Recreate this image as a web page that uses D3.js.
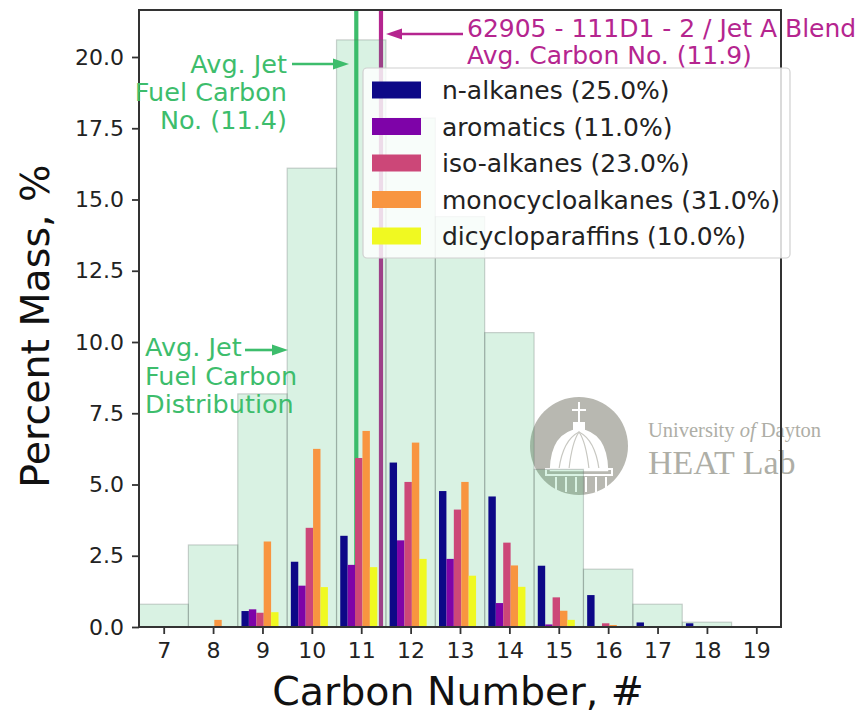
<!DOCTYPE html>
<html>
<head>
<meta charset="utf-8">
<script src="https://cdn.jsdelivr.net/npm/d3@7/dist/d3.min.js"></script>
<style>
  html, body { margin: 0; padding: 0; background: #fff; }
  svg text { font-family: "DejaVu Sans", sans-serif; }
</style>
</head>
<body>
<svg id="chart" width="856" height="714"></svg>
<script>
// ---------- DATA ----------
const carbons = [7, 8, 9, 10, 11, 12, 13, 14, 15, 16, 17, 18, 19];
const jetFuelDist = [0.8, 2.88, 8.18, 16.1, 20.6, 17.86, 14.4, 10.33, 5.53, 2.03, 0.8, 0.17, 0];
const nAlkanes   = [0, 0.03, 0.56, 2.29, 3.2, 5.77, 4.77, 4.58, 2.15, 1.12, 0.16, 0.13, 0];
const aromatics  = [0, 0.02, 0.62, 1.45, 2.18, 3.04, 2.39, 0.84, 0.09, 0, 0, 0, 0];
const isoAlkanes = [0, 0, 0.5, 3.48, 5.93, 5.09, 4.12, 2.96, 1.04, 0.13, 0, 0, 0];
const monocyclo  = [0, 0.25, 3.0, 6.25, 6.88, 6.47, 5.09, 2.16, 0.57, 0.07, 0, 0, 0];
const dicyclo    = [0, 0, 0.52, 1.4, 2.1, 2.39, 1.8, 1.41, 0.25, 0, 0, 0, 0];
const seriesNames = ["n-alkanes (25.0%)", "aromatics (11.0%)", "iso-alkanes (23.0%)",
                     "monocycloalkanes (31.0%)", "dicycloparaffins (10.0%)"];
const seriesValues = [nAlkanes, aromatics, isoAlkanes, monocyclo, dicyclo];
const seriesColors = ["#0d0887", "#7e03a8", "#cc4778", "#f89540", "#f0f921"];
const yTicks = [0, 2.5, 5, 7.5, 10, 12.5, 15, 17.5, 20];
const avgJetCarbon = 11.4;
const sampleAvgCarbon = 11.9;
const jetLabel = ["Avg. Jet", "Fuel Carbon", "No. (11.4)"];
const sampleLabel = ["62905 - 111D1 - 2 / Jet A Blend", "Avg. Carbon No. (11.9)"];
const distLabel = ["Avg. Jet", "Fuel Carbon", "Distribution"];

// ---------- LAYOUT ----------
const svg = d3.select("#chart");
const L = 139, R = 781, T = 10, B = 627;
const x = d3.scaleLinear().domain([6.5, 19.5]).range([L, R]);
const y = d3.scaleLinear().domain([0, 617 / 28.5]).range([B, T]);
const green = "#3dbd6c", magenta = "#b5258f";

// ---------- WATERMARK ----------
const wm = svg.append("g");
wm.append("circle").attr("cx", 579).attr("cy", 446).attr("r", 49).attr("fill", "#b8b8b1");
const dome = wm.append("g").attr("stroke", "#fff").attr("fill", "none").attr("stroke-width", 2);
dome.append("line").attr("x1", 579).attr("x2", 579).attr("y1", 402).attr("y2", 424);
dome.append("line").attr("x1", 572).attr("x2", 586).attr("y1", 410).attr("y2", 410);
dome.append("rect").attr("x", 574).attr("y", 423).attr("width", 10).attr("height", 8).attr("fill", "#fff");
dome.append("path").attr("d", "M551,470 Q552,433 579,430 Q606,433 607,470 Z").attr("fill", "#fff").attr("stroke-width", 2.5);
dome.append("path").attr("d", "M559,469 Q563,440 579,432 Q595,440 599,469").attr("stroke", "#c8c8c2").attr("stroke-width", 1.2);
dome.append("path").attr("d", "M569,469 Q572,442 579,432 Q586,442 589,469").attr("stroke", "#c8c8c2").attr("stroke-width", 1.2);
dome.append("rect").attr("x", 546).attr("y", 469).attr("width", 66).attr("height", 6);
[556, 566, 576, 586, 596, 606].forEach(cx => {
  dome.append("line").attr("x1", cx).attr("x2", cx).attr("y1", 477).attr("y2", 492);
});
wm.append("text").attr("x", 648).attr("y", 437).attr("fill", "#aeaea6")
  .style("font-family", "'Liberation Serif', 'DejaVu Serif', serif").style("font-size", "20.5px")
  .html("University <tspan font-style='italic'>of</tspan> Dayton");
wm.append("text").attr("x", 648).attr("y", 474).attr("fill", "#aeaea6")
  .style("font-family", "'Liberation Serif', 'DejaVu Serif', serif").style("font-size", "34px")
  .text("HEAT Lab");

// ---------- VERTICAL LINES ----------
svg.append("line").attr("x1", x(avgJetCarbon - 0.5)).attr("x2", x(avgJetCarbon - 0.5))
  .attr("y1", T).attr("y2", B).attr("stroke", green).attr("stroke-width", 4.2);
svg.append("line").attr("x1", x(sampleAvgCarbon - 0.5)).attr("x2", x(sampleAvgCarbon - 0.5))
  .attr("y1", T).attr("y2", B).attr("stroke", magenta).attr("stroke-width", 4.2);

// ---------- HISTOGRAM ----------
svg.append("g").selectAll("rect").data(carbons).join("rect")
  .attr("x", (c) => x(c - 0.5))
  .attr("width", (c) => x(c + 0.5) - x(c - 0.5))
  .attr("y", (c, i) => y(jetFuelDist[i]))
  .attr("height", (c, i) => B - y(jetFuelDist[i]))
  .attr("fill", "rgba(55,185,105,0.19)")
  .attr("stroke", "rgba(100,110,105,0.3)")
  .attr("stroke-width", 1.2)
  .attr("display", (c, i) => jetFuelDist[i] > 0 ? null : "none");

// ---------- GROUPED BARS ----------
const bw = 0.15;
seriesValues.forEach((vals, s) => {
  svg.append("g").selectAll("rect").data(carbons).join("rect")
    .attr("x", (c) => x(c - 0.35 + s * bw - bw / 2))
    .attr("width", x(bw) - x(0))
    .attr("y", (c, i) => y(vals[i]))
    .attr("height", (c, i) => B - y(vals[i]))
    .attr("fill", seriesColors[s]);
});

// ---------- AXES ----------
const tickCol = "#333";
const gx = svg.append("g").attr("transform", `translate(0,${B})`)
  .call(d3.axisBottom(x).tickValues(carbons).tickFormat(d3.format("d")).tickSize(7).tickPadding(8));
const gy = svg.append("g").attr("transform", `translate(${L},0)`)
  .call(d3.axisLeft(y).tickValues(yTicks).tickFormat(d3.format(".1f")).tickSize(7).tickPadding(8));
[gx, gy].forEach(g => {
  g.select(".domain").remove();
  g.selectAll(".tick line").attr("stroke", tickCol).attr("stroke-width", 1.8);
  g.selectAll(".tick text").attr("fill", "#222").style("font-size", "22px")
    .style("font-family", "'DejaVu Sans', sans-serif");
});
svg.append("rect").attr("x", L).attr("y", T).attr("width", R - L).attr("height", B - T)
  .attr("fill", "none").attr("stroke", "#333").attr("stroke-width", 2);

// axis labels
svg.append("text").attr("x", 458).attr("y", 705).attr("text-anchor", "middle")
  .style("font-size", "39.5px").attr("fill", "#111").text("Carbon Number, #");
svg.append("text").attr("transform", "translate(49,326) rotate(-90)").attr("text-anchor", "middle")
  .style("font-size", "39.5px").attr("fill", "#111").text("Percent Mass, %");

// ---------- LEGEND ----------
const lg = svg.append("g");
lg.append("rect").attr("x", 363).attr("y", 68).attr("width", 427).attr("height", 190)
  .attr("rx", 4).attr("fill", "rgba(255,255,255,0.82)").attr("stroke", "#d0d0d0").attr("stroke-width", 1.2);
seriesNames.forEach((name, s) => {
  const cy = 90 + s * 36.5;
  lg.append("rect").attr("x", 372).attr("y", cy - 8.5).attr("width", 49).attr("height", 17)
    .attr("fill", seriesColors[s]);
  lg.append("text").attr("x", 442).attr("y", cy + 9).style("font-size", "25px")
    .attr("fill", "#222").text(name);
});

// ---------- ANNOTATIONS ----------
function arrow(x1, y1, x2, y2, col) {
  const dir = Math.sign(x2 - x1);
  const hl = 16, hw = 5.5;
  svg.append("line").attr("x1", x1).attr("y1", y1).attr("x2", x2 - dir * hl).attr("y2", y2)
    .attr("stroke", col).attr("stroke-width", 2.6);
  svg.append("path").attr("d", `M${x2},${y2} L${x2 - dir * hl},${y2 - hw} L${x2 - dir * hl},${y2 + hw} Z`)
    .attr("fill", col);
}
jetLabel.forEach((t, i) => {
  svg.append("text").attr("x", 287).attr("y", 73 + i * 28).attr("text-anchor", "end")
    .style("font-size", "25.5px").attr("fill", green).text(t);
});
arrow(292, 64, 349, 64, green);
sampleLabel.forEach((t, i) => {
  svg.append("text").attr("x", 467).attr("y", 37 + i * 26.5).attr("text-anchor", "start")
    .style("font-size", "25px").attr("fill", magenta).text(t);
});
arrow(463, 34, 386, 34, magenta);
distLabel.forEach((t, i) => {
  svg.append("text").attr("x", 145).attr("y", 356 + i * 28.5).attr("text-anchor", "start")
    .style("font-size", "25.5px").attr("fill", green).text(t);
});
arrow(245, 350, 288, 350, green);
</script>
</body>
</html>
